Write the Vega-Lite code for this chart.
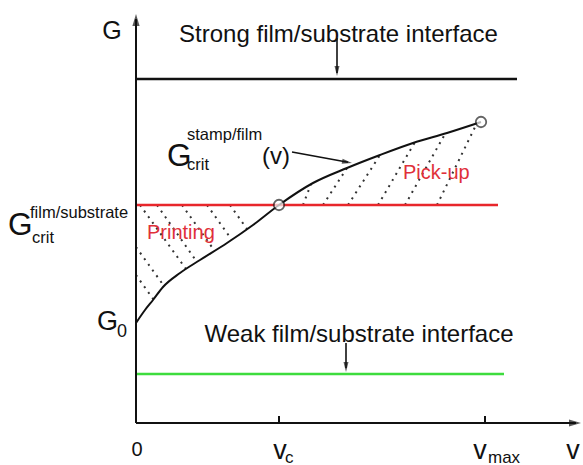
{
  "$schema": "https://vega.github.io/schema/vega-lite/v6.json",
  "width": 583,
  "height": 465,
  "padding": 0,
  "autosize": {"type": "none"},
  "config": {"view": {"stroke": null}, "text": {"font": "Liberation Sans"}},
  "datasets": {
    "axes": [
      {"x": 0, "y": 0, "x2": 0, "y2": 404},
      {"x": 0, "y": 0, "x2": 440, "y2": 0},
      {"x": 143, "y": 0, "x2": 143, "y2": 7},
      {"x": 349, "y": 0, "x2": 349, "y2": 7}
    ],
    "levels": [
      {"level": "Strong", "x": 0, "x2": 381, "y": 344},
      {"level": "Critical", "x": 0, "x2": 362, "y": 218},
      {"level": "Weak", "x": 0, "x2": 368, "y": 49}
    ],
    "curve": [
      {"x": 0, "y": 100}, {"x": 9, "y": 113}, {"x": 17, "y": 123}, {"x": 27, "y": 136},
      {"x": 44, "y": 150}, {"x": 64, "y": 163}, {"x": 91, "y": 180}, {"x": 117, "y": 198},
      {"x": 143, "y": 218}, {"x": 177, "y": 240}, {"x": 211, "y": 255}, {"x": 244, "y": 268},
      {"x": 277, "y": 280}, {"x": 311, "y": 290}, {"x": 345, "y": 301}
    ],
    "hatch": [
      {"x": 4, "y": 218, "x2": 50, "y2": 154},
      {"x": 21, "y": 218, "x2": 61, "y2": 161},
      {"x": 46, "y": 218, "x2": 78.7, "y2": 172},
      {"x": 71, "y": 218, "x2": 96, "y2": 183},
      {"x": 94, "y": 218, "x2": 111, "y2": 194},
      {"x": 0, "y": 176, "x2": 28, "y2": 137},
      {"x": 0, "y": 148, "x2": 17.5, "y2": 123.5},
      {"x": 167, "y": 218, "x2": 175, "y2": 239},
      {"x": 187, "y": 218, "x2": 211, "y2": 255},
      {"x": 212, "y": 218, "x2": 244, "y2": 268},
      {"x": 242, "y": 218, "x2": 279, "y2": 281},
      {"x": 269, "y": 218, "x2": 309, "y2": 289},
      {"x": 301, "y": 218, "x2": 341, "y2": 300}
    ],
    "circles": [{"x": 143, "y": 218}, {"x": 345, "y": 301}],
    "pointers": [
      {"x": 201, "y": 385, "x2": 201, "y2": 350},
      {"x": 210, "y": 80, "x2": 210, "y2": 55},
      {"x": 156, "y": 271, "x2": 212, "y2": 260.7}
    ],
    "headUp": [{"x": 0, "y": 409}],
    "headRight": [{"x": 445, "y": 0}],
    "headDown": [{"x": 201, "y": 347}, {"x": 210, "y": 51}],
    "headCurve": [{"x": 216, "y": 260}],
    "titles": [
      {"label": "Strong film/substrate interface", "x": 202.5, "y": 388},
      {"label": "Weak film/substrate interface", "x": 223, "y": 88}
    ],
    "bigG": [{"label": "G", "x": -128, "y": 197}, {"label": "G", "x": 31, "y": 266}],
    "scripts": [
      {"label": "film/substrate", "x": -106, "y": 210},
      {"label": "crit", "x": -104, "y": 185},
      {"label": "stamp/film", "x": 51, "y": 288},
      {"label": "crit", "x": 51, "y": 258}
    ],
    "paren": [{"label": "(v)", "x": 126, "y": 266}],
    "g0": [{"label": "G", "x": -39, "y": 101}],
    "g0sub": [{"label": "0", "x": -19, "y": 91}],
    "topG": [{"label": "G", "x": -24, "y": 392}],
    "zero": [{"label": "0", "x": 1, "y": -27}],
    "vs": [{"label": "v", "x": 144, "y": -28}, {"label": "v", "x": 344, "y": -28}, {"label": "v", "x": 437, "y": -28}],
    "vsub": [{"label": "c", "x": 149, "y": -35}, {"label": "max", "x": 352, "y": -35}],
    "regions": [{"label": "Printing", "x": 11, "y": 190}, {"label": "Pick-up", "x": 267, "y": 250}]
  },
  "encoding": {
    "x": {"field": "x", "type": "quantitative", "scale": {"domain": [-136, 447], "nice": false, "zero": false}, "axis": null},
    "y": {"field": "y", "type": "quantitative", "scale": {"domain": [-42, 423], "nice": false, "zero": false}, "axis": null}
  },
  "layer": [
    {"data": {"name": "hatch"}, "mark": {"type": "rule", "strokeDash": [2, 5], "strokeWidth": 2, "color": "#333333"},
     "encoding": {"x2": {"field": "x2"}, "y2": {"field": "y2"}}},
    {"data": {"name": "levels"}, "mark": {"type": "rule", "strokeWidth": 2.5},
     "encoding": {"x2": {"field": "x2"},
       "color": {"field": "level", "type": "nominal", "scale": {"domain": ["Strong", "Critical", "Weak"], "range": ["#111111", "#e8262b", "#3ddc3d"]}, "legend": null}}},
    {"data": {"name": "axes"}, "mark": {"type": "rule", "strokeWidth": 2, "color": "#111111"},
     "encoding": {"x2": {"field": "x2"}, "y2": {"field": "y2"}}},
    {"data": {"name": "curve"}, "mark": {"type": "line", "strokeWidth": 2, "color": "#111111", "interpolate": "monotone"},
     "encoding": {"order": {"field": "x", "type": "quantitative"}}},
    {"data": {"name": "circles"}, "mark": {"type": "point", "shape": "circle", "size": 110, "filled": true, "fill": "#ffffff", "stroke": "#222222", "strokeWidth": 1.8}},
    {"data": {"name": "pointers"}, "mark": {"type": "rule", "strokeWidth": 1.6, "color": "#111111"},
     "encoding": {"x2": {"field": "x2"}, "y2": {"field": "y2"}}},
    {"data": {"name": "headUp"}, "mark": {"type": "point", "shape": "M0,0L-0.6,2L0.6,2Z", "size": 144, "filled": true, "color": "#111111", "strokeWidth": 0}},
    {"data": {"name": "headRight"}, "mark": {"type": "point", "shape": "M0,0L-2,-0.6L-2,0.6Z", "size": 144, "filled": true, "color": "#111111", "strokeWidth": 0}},
    {"data": {"name": "headDown"}, "mark": {"type": "point", "shape": "M0,0L-0.5,-2L0.5,-2Z", "size": 100, "filled": true, "color": "#111111", "strokeWidth": 0}},
    {"data": {"name": "headCurve"}, "mark": {"type": "point", "shape": "M0,0L-2,-0.5L-2,0.5Z", "size": 100, "angle": 10, "filled": true, "color": "#111111", "strokeWidth": 0}},
    {"data": {"name": "titles"}, "mark": {"type": "text", "fontSize": 24, "align": "center", "color": "#111111"},
     "encoding": {"text": {"field": "label"}}},
    {"data": {"name": "bigG"}, "mark": {"type": "text", "fontSize": 31.5, "align": "left", "color": "#111111"},
     "encoding": {"text": {"field": "label"}}},
    {"data": {"name": "scripts"}, "mark": {"type": "text", "fontSize": 16.5, "align": "left", "color": "#111111"},
     "encoding": {"text": {"field": "label"}}},
    {"data": {"name": "paren"}, "mark": {"type": "text", "fontSize": 24, "align": "left", "color": "#111111"},
     "encoding": {"text": {"field": "label"}}},
    {"data": {"name": "g0"}, "mark": {"type": "text", "fontSize": 27, "align": "left", "color": "#111111"},
     "encoding": {"text": {"field": "label"}}},
    {"data": {"name": "g0sub"}, "mark": {"type": "text", "fontSize": 18, "align": "left", "color": "#111111"},
     "encoding": {"text": {"field": "label"}}},
    {"data": {"name": "topG"}, "mark": {"type": "text", "fontSize": 25, "align": "center", "color": "#111111"},
     "encoding": {"text": {"field": "label"}}},
    {"data": {"name": "zero"}, "mark": {"type": "text", "fontSize": 20, "align": "center", "color": "#111111"},
     "encoding": {"text": {"field": "label"}}},
    {"data": {"name": "vs"}, "mark": {"type": "text", "fontSize": 27, "align": "center", "color": "#111111"},
     "encoding": {"text": {"field": "label"}}},
    {"data": {"name": "vsub"}, "mark": {"type": "text", "fontSize": 17, "align": "left", "color": "#111111"},
     "encoding": {"text": {"field": "label"}}},
    {"data": {"name": "regions"}, "mark": {"type": "text", "fontSize": 20, "align": "left", "color": "#e0303a"},
     "encoding": {"text": {"field": "label"}}}
  ]
}
